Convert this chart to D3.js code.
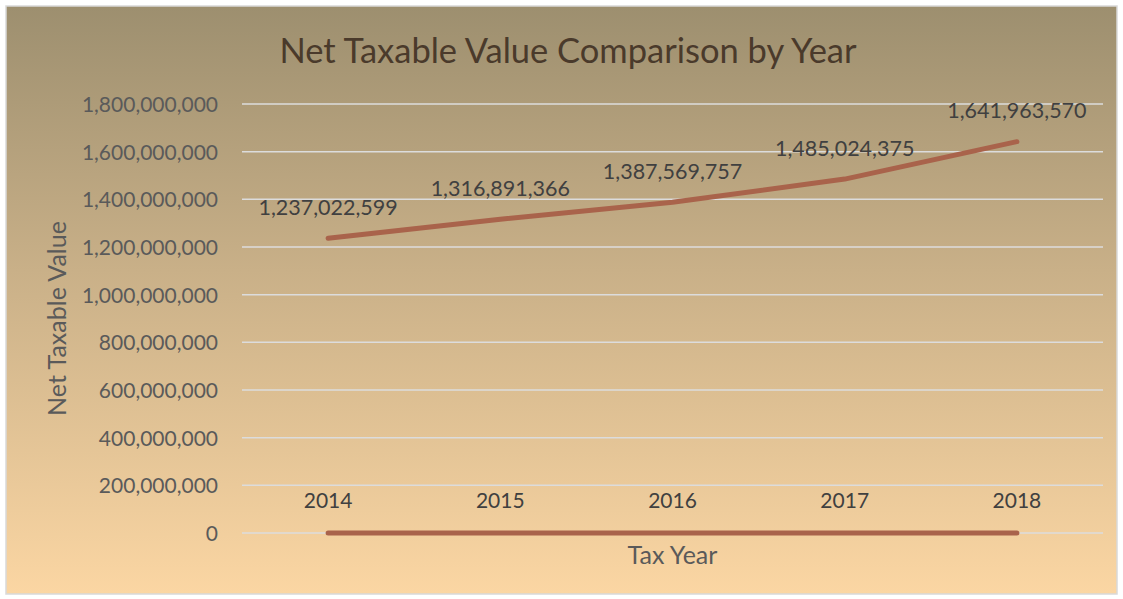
<!DOCTYPE html>
<html>
<head>
<meta charset="utf-8">
<script src="https://cdn.jsdelivr.net/npm/d3@7"></script>
<style>
  html, body { margin: 0; padding: 0; background: #fff; }
  svg { display: block; font-family: Lato, "Open Sans", sans-serif; }
</style>
</head>
<body>
<svg id="chart" width="1123" height="599"></svg>
<script>
// chart data
const years = ['2014', '2015', '2016', '2017', '2018'];
const netTaxable = [1237022599, 1316891366, 1387569757, 1485024375, 1641963570];
const zeroSeries = [0, 0, 0, 0, 0];
const yTicks = [0, 200000000, 400000000, 600000000, 800000000, 1000000000,
                1200000000, 1400000000, 1600000000, 1800000000];

const svg = d3.select('#chart');
const W = 1123, H = 599;
const plot = { left: 242, right: 1103, top: 104, bottom: 533 };
const lineColor = '#a9634b';

// background gradient
const defs = svg.append('defs');
const grad = defs.append('linearGradient')
    .attr('id', 'bg').attr('x1', 0).attr('y1', 0).attr('x2', 0).attr('y2', 1);
grad.append('stop').attr('offset', '0%').attr('stop-color', '#9d8f6f');
grad.append('stop').attr('offset', '45%').attr('stop-color', '#c9b088');
grad.append('stop').attr('offset', '100%').attr('stop-color', '#fbd6a3');

svg.append('rect')
    .attr('x', 6).attr('y', 6).attr('width', W - 12).attr('height', H - 11)
    .attr('fill', 'url(#bg)')
    .attr('stroke', '#d9d9d9').attr('stroke-width', 1.5);

const x = d3.scaleBand().domain(years).range([plot.left, plot.right]);
const y = d3.scaleLinear().domain([0, 1800000000]).range([plot.bottom, plot.top]);
const cx = (d) => x(d) + x.bandwidth() / 2;
const fmt = d3.format(',');

// gridlines
svg.append('g')
    .selectAll('line')
    .data(yTicks)
    .join('line')
    .attr('x1', plot.left).attr('x2', plot.right)
    .attr('y1', (d) => y(d)).attr('y2', (d) => y(d))
    .attr('stroke', '#dcdcdc').attr('stroke-width', 1.5);

// y axis labels
const yAxis = svg.append('g')
    .attr('transform', `translate(${plot.left - 24},0)`)
    .call(d3.axisLeft(y).tickValues(yTicks).tickFormat(fmt).tickSize(0).tickPadding(0));
yAxis.select('.domain').remove();
yAxis.selectAll('text')
    .attr('font-size', 21).attr('fill', '#5a5a5a')
    .attr('font-family', 'Lato, "Open Sans", sans-serif')
    .attr('dy', '0.35em');

// category labels (drawn above the zero line, as in the original)
const xAxis = svg.append('g')
    .attr('transform', `translate(0,${plot.bottom - 41})`)
    .call(d3.axisBottom(x).tickSize(0).tickPadding(0));
xAxis.select('.domain').remove();
xAxis.selectAll('text')
    .attr('font-size', 21).attr('fill', '#404040')
    .attr('font-family', 'Lato, "Open Sans", sans-serif')
    .attr('dy', '0.75em');

// series lines
const line = d3.line().x((d, i) => cx(years[i])).y((d) => y(d));
[zeroSeries, netTaxable].forEach((series) => {
    svg.append('path')
        .datum(series)
        .attr('d', line)
        .attr('fill', 'none')
        .attr('stroke', lineColor)
        .attr('stroke-width', 5)
        .attr('stroke-linecap', 'round')
        .attr('stroke-linejoin', 'round');
});

// data labels
svg.append('g')
    .selectAll('text')
    .data(netTaxable)
    .join('text')
    .attr('x', (d, i) => cx(years[i]))
    .attr('y', (d) => y(d) - 31)
    .attr('text-anchor', 'middle')
    .attr('dy', '0.35em')
    .attr('font-size', 21.5)
    .attr('fill', '#404040')
    .text(fmt);

// titles
svg.append('text')
    .attr('x', 568).attr('y', 51)
    .attr('text-anchor', 'middle').attr('dy', '0.35em')
    .attr('font-size', 34.5).attr('fill', '#4a3a2b')
    .text('Net Taxable Value Comparison by Year');

svg.append('text')
    .attr('transform', `translate(57,${(plot.top + plot.bottom) / 2}) rotate(-90)`)
    .attr('text-anchor', 'middle').attr('dy', '0.35em')
    .attr('font-size', 25).attr('fill', '#5a5a5a')
    .text('Net Taxable Value');

svg.append('text')
    .attr('x', (plot.left + plot.right) / 2).attr('y', 555)
    .attr('text-anchor', 'middle').attr('dy', '0.35em')
    .attr('font-size', 25).attr('fill', '#5a5a5a')
    .text('Tax Year');
</script>
</body>
</html>
